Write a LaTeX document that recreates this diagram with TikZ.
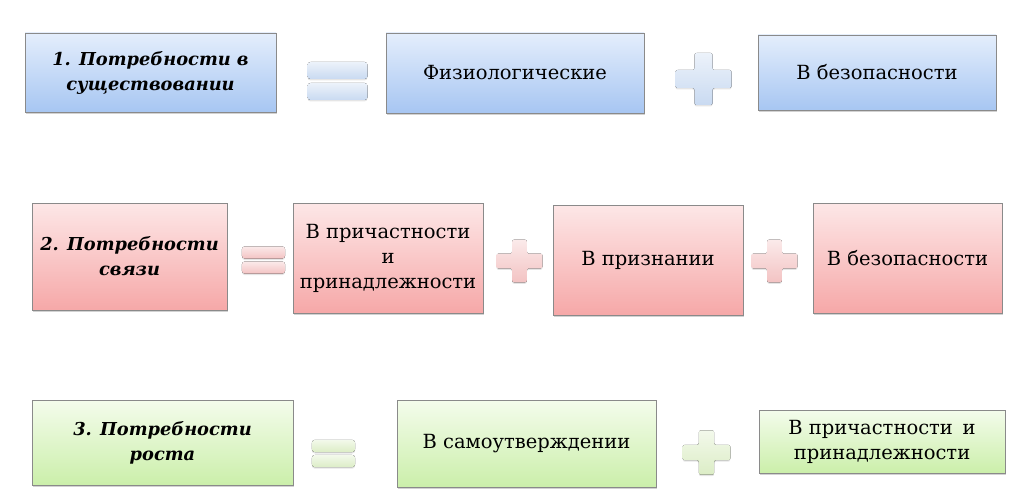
\documentclass[tikz,border=0pt]{standalone}
\usepackage{fontspec}
\setmainfont{DejaVu Serif}
\usetikzlibrary{shadows}

\definecolor{blueTop}{HTML}{E4EEFC}
\definecolor{blueBot}{HTML}{A7C6F2}
\definecolor{pinkTop}{HTML}{FDE7E7}
\definecolor{pinkBot}{HTML}{F6A8A8}
\definecolor{greenTop}{HTML}{F4FCEC}
\definecolor{greenBot}{HTML}{CBEFAA}
\definecolor{edgeGray}{HTML}{8A8A8A}
\definecolor{blueSign}{HTML}{C9DAF1}
\definecolor{pinkSign}{HTML}{F3C3C3}
\definecolor{greenSign}{HTML}{DCEDC6}

\begin{document}
\begin{tikzpicture}[x=1pt,y=-1pt,
   needbox/.style={draw=edgeGray, line width=0.6pt, inner sep=0pt, align=center,
      text=black, font=\fontsize{19.5}{25}\selectfont,
      drop shadow={shadow xshift=1pt, shadow yshift=-2pt, opacity=0.35}},
   blueneed/.style={needbox, top color=blueTop, bottom color=blueBot},
   pinkneed/.style={needbox, top color=pinkTop, bottom color=pinkBot},
   greenneed/.style={needbox, top color=greenTop, bottom color=greenBot},
   titlefont/.style={font=\fontsize{17.8}{25}\selectfont\bfseries\itshape},
   pics/eqsign/.style={code={
      \fill[rounded corners=3pt, top color=#1!35!white, bottom color=#1,
         drop shadow={shadow xshift=0pt, shadow yshift=-1.5pt, opacity=0.2}]
         (-30,-19) rectangle (30,-2);
      \fill[rounded corners=3pt, top color=#1!35!white, bottom color=#1,
         drop shadow={shadow xshift=0pt, shadow yshift=-1.5pt, opacity=0.2}]
         (-30,2) rectangle (30,19);
   }},
   pics/plussign/.style={code={
      \fill[rounded corners=2pt, top color=#1!35!white, bottom color=#1,
         drop shadow={shadow xshift=0pt, shadow yshift=-1.5pt, opacity=0.2}]
         (-28,-9) -- (-9,-9) -- (-9,-26) -- (9,-26) -- (9,-9) -- (28,-9) -- (28,9)
         -- (9,9) -- (9,26) -- (-9,26) -- (-9,9) -- (-28,9) -- cycle;
   }}]
   \useasboundingbox[fill=white] (0,0) rectangle (1028,500);

   % row 1
   \node[blueneed, titlefont, minimum width=251, minimum height=79] (exist) at (150.5,72.5)
      {1. Потребности в\\существовании};
   \pic at (337.5,81) {eqsign=blueSign};
   \node[blueneed, minimum width=258, minimum height=80] (physio) at (515,73) {Физиологические};
   \pic at (703.5,79) {plussign=blueSign};
   \node[blueneed, minimum width=238, minimum height=75] (safeA) at (877,72.5) {В безопасности};

   % row 2
   \node[pinkneed, titlefont, minimum width=195, minimum height=107] (relate) at (129.5,256.5)
      {2. Потребности\\связи};
   \pic[scale=0.72] at (263.5,260) {eqsign=pinkSign};
   \node[pinkneed, minimum width=190, minimum height=110] (belongB) at (388,258)
      {В причастности\\и\\принадлежности};
   \pic[scale=0.82] at (519.5,261) {plussign=pinkSign};
   \node[pinkneed, minimum width=190, minimum height=110] (esteem) at (648,260) {В признании};
   \pic[scale=0.82] at (774.5,261) {plussign=pinkSign};
   \node[pinkneed, minimum width=189, minimum height=110] (safeB) at (907.5,258) {В безопасности};

   % row 3
   \node[greenneed, titlefont, minimum width=261, minimum height=85] (growth) at (162.5,442.5)
      {3. Потребности\\роста};
   \pic[scale=0.72] at (333.5,453.5) {eqsign=greenSign};
   \node[greenneed, minimum width=259, minimum height=87] (selfA) at (526.5,443.5) {В самоутверждении};
   \pic[scale=0.85] at (706.5,452.5) {plussign=greenSign};
   \node[greenneed, minimum width=246, minimum height=63] (belongC) at (882,441.5)
      {В причастности\enspace и\\принадлежности};
\end{tikzpicture}
\end{document}
